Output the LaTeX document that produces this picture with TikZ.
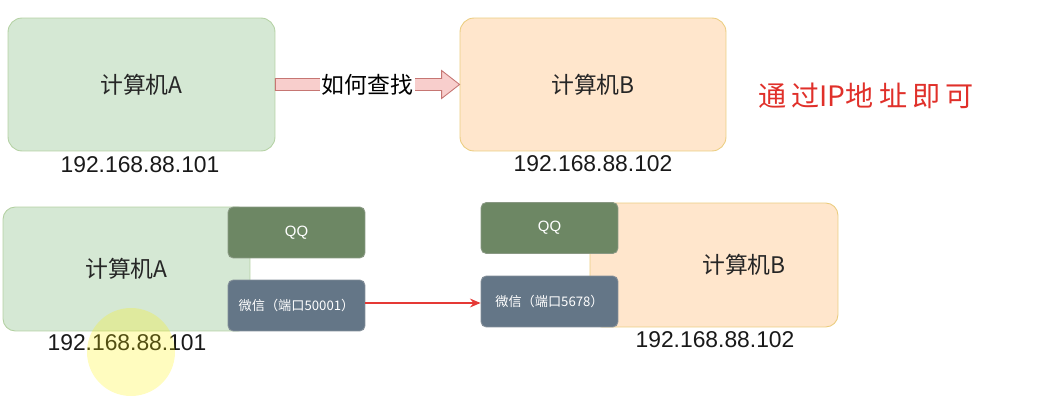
\documentclass[tikz,border=0pt]{standalone}
\usepackage{fontspec}
\setmainfont{Liberation Sans}
\newfontfamily\cjk{Noto Sans CJK SC}
\usetikzlibrary{arrows.meta,calc}

\definecolor{pcgreen}{HTML}{D5E8D4}
\definecolor{pcgreenline}{HTML}{82B366}
\definecolor{pcorange}{HTML}{FFE6CC}
\definecolor{pcorangeline}{HTML}{D79B00}
\definecolor{qqfill}{HTML}{6D8764}
\definecolor{qqline}{HTML}{3A5431}
\definecolor{wxfill}{HTML}{647687}
\definecolor{wxline}{HTML}{314354}
\definecolor{findfill}{HTML}{F8CECC}
\definecolor{findline}{HTML}{B85450}
\definecolor{hintred}{HTML}{E0302A}
\definecolor{portred}{HTML}{E53935}

\begin{document}
\begin{tikzpicture}[
    x=0.02cm, y=-0.02cm,
    pc/.style={
        rounded corners=8pt, line width=0.5pt, text=black!85,
        font=\cjk\fontsize{13}{15}\selectfont
    },
    pcA/.style={pc, draw=pcgreenline!60, fill=pcgreen},
    pcB/.style={pc, draw=pcorangeline!50, fill=pcorange},
    app/.style={
        rounded corners=3pt, line width=0.5pt, text=white,
        minimum width=2.74cm, minimum height=1.02cm
    },
    qq/.style={app, draw=qqline!60, fill=qqfill, font=\fontsize{8.5}{10}\selectfont},
    wx/.style={app, draw=wxline!60, fill=wxfill, font=\cjk\fontsize{7.5}{9}\selectfont},
    ip/.style={font=\fontsize{13}{15}\selectfont, text=black!90},
    findarrow/.style={draw=findline!80, fill=findfill, line width=0.5pt},
    portarrow/.style={-{Stealth[length=6pt,width=5pt]}, draw=portred, line width=1.1pt}
]
  \useasboundingbox (0,0) rectangle (1056,402);

  % Top row: how to find the other computer
  \node[pcA, minimum width=5.34cm, minimum height=2.66cm] (topA) at (141.5,84.5) {计算机A};
  \node[pcB, minimum width=5.32cm, minimum height=2.66cm] (topB) at (593,84.5) {计算机B};
  \node[ip] (ipTopA) at (140,165) {192.168.88.101};
  \node[ip] (ipTopB) at (593,164) {192.168.88.102};

  \draw[findarrow] ($(topA.east)+(0,-6)$) -- ($(topB.west)+(-18,-6)$) -- ++(0,-8)
      -- (topB.west) -- ++(-18,14) -- ++(0,-8) -- ($(topA.east)+(0,6)$) -- cycle;
  \node[fill=white, inner sep=1pt, font=\cjk\fontsize{13}{15}\selectfont] (find)
      at ($(topA.east)!0.5!(topB.west)$) {如何查找};

  \node[text=hintred, font=\cjk\fontsize{16}{18}\selectfont] (hint) at (866,96)
      {通\hspace{3pt}过IP地\hspace{3pt}址\hspace{3pt}即\hspace{3pt}可};

  % Bottom row: computers with applications and ports
  \node[pcA, rounded corners=7pt, minimum width=4.94cm, minimum height=2.48cm] (botA) at (126.5,269) {计算机A};
  \node[pcB, rounded corners=7pt, minimum width=4.96cm, minimum height=2.48cm] (botB) at (714,265) {\hspace{1.2cm}计算机B};
  \node[ip] (ipBotA) at (127,343) {192.168.88.101};
  \node[ip] (ipBotB) at (715,340) {192.168.88.102};

  \node[qq] (qqA) at (296.5,232.5) {QQ};
  \node[wx] (wxA) at (296.5,305.5) {微信（端口50001）};
  \node[qq] (qqB) at (549.5,228) {QQ};
  \node[wx] (wxB) at (549.5,301.5) {微信（端口5678）};

  \coordinate (portIn) at ($(wxA.east -| wxB.west)+(0,-2.5)$);
  \draw[portarrow] ($(wxA.east)+(0,-2.5)$) -- (portIn);

  % cursor highlight
  \fill[yellow, opacity=0.25] (131,352) circle (44);
\end{tikzpicture}
\end{document}
